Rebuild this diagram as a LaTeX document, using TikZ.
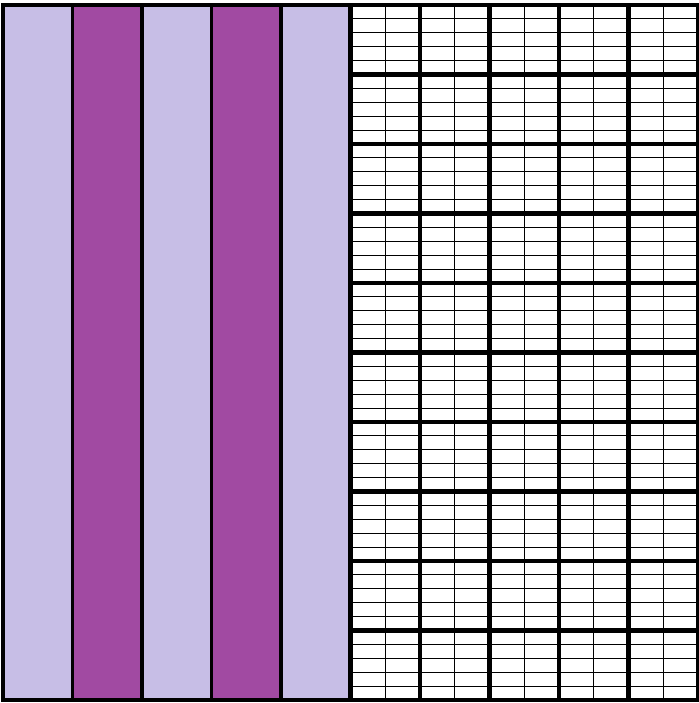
\documentclass[tikz,border=0pt]{standalone}
\usetikzlibrary{positioning}
\definecolor{lilac}{RGB}{199,190,230}
\definecolor{plum}{RGB}{161,74,162}
\tikzset{
  stripe/.style={fill=#1,draw=black,line width=1.6pt},
  stripe/.default=lilac,
  fine line/.style={draw=black,line width=0.4pt},
  cell/.style={draw=black,line width=2pt},
}
\begin{document}
\begin{tikzpicture}
  \useasboundingbox (-0.043,-0.043) rectangle (10.014,10.072);
  % five stripes on the left
  \foreach \i/\c in {0/lilac,1/plum,2/lilac,3/plum,4/lilac}
    \filldraw[stripe=\c] (\i,0) rectangle ++(1,10);
  % fine subdivisions on the right
  \foreach \x in {5.5,6.5,7.5,8.5,9.5} \draw[fine line] (\x,0) -- (\x,10);
  \foreach \k in {1,...,49} \draw[fine line] (5,\k/5) -- (10,\k/5);
  % big cells
  \foreach \x in {5,...,9} \foreach \y in {0,...,9}
    \draw[cell] (\x,\y) rectangle ++(1,1);
\end{tikzpicture}
\end{document}
